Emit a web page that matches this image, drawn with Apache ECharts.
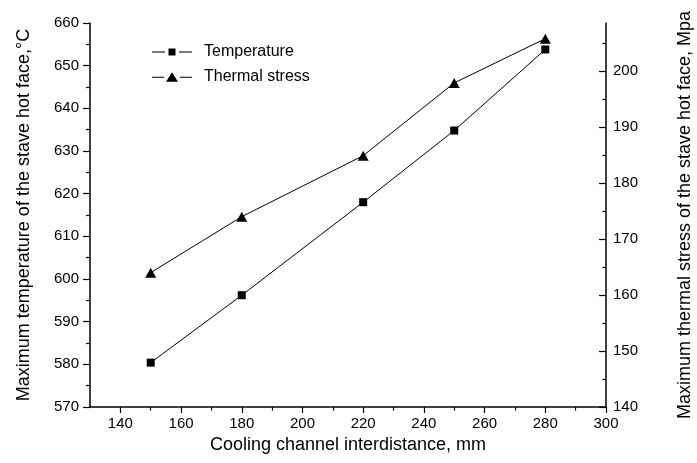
<!DOCTYPE html>
<html>
<head>
<meta charset="utf-8">
<script src="https://cdn.jsdelivr.net/npm/echarts@6/dist/echarts.min.js"></script>
<style>
  html, body { margin: 0; padding: 0; background: #fff; }
  #chart { width: 697px; height: 463px; }
</style>
</head>
<body>
<div id="chart"></div>
<script>
// Cooling channel interdistance (mm)
const spacing = [150, 180, 220, 250, 280];
// Maximum hot-face temperature (°C)
const temperature = [580.4, 596.2, 618.0, 634.8, 653.8];
// Maximum hot-face thermal stress (MPa)
const thermalStress = [164.0, 174.0, 184.9, 197.9, 205.8];

// Tick positions
const xMajorTicks = [140, 160, 180, 200, 220, 240, 260, 280, 300];
const xMinorTicks = [150, 170, 190, 210, 230, 250, 270, 290];
const stressMajorTicks = [140, 150, 160, 170, 180, 190, 200];
const stressMinorTicks = [145, 155, 165, 175, 185, 195, 205];

const FONT = '"Liberation Sans", Arial, sans-serif';
const INK = '#000';

// Legend keys: short line, marker, short line (with small gaps around the marker)
const SQUARE_KEY = 'path://M0 4.5H13V5.5H0Z M16.5 1.5H23.5V8.5H16.5Z M27 4.5H40V5.5H27Z';
const TRIANGLE_KEY = 'path://M0 5H12V6H0Z M14 10L20 0.5L26 10Z M28 5H40V6H28Z';

const pairs = (xs, ys) => xs.map((x, i) => [x, ys[i]]);

const chart = echarts.init(document.getElementById('chart'), null, { renderer: 'canvas' });

chart.setOption({
  animation: false,
  backgroundColor: '#fff',
  textStyle: { fontFamily: FONT, color: INK },
  grid: { left: 90, right: 91, top: 23, bottom: 56, containLabel: false, outerBoundsMode: 'none' },
  legend: {
    orient: 'vertical',
    left: 147,
    top: 39,
    itemWidth: 40,
    itemHeight: 10,
    itemGap: 9,
    symbolKeepAspect: true,
    textStyle: { fontSize: 16, color: INK, fontFamily: FONT, padding: [0, 0, 0, 7] },
    data: [
      { name: 'Temperature', icon: SQUARE_KEY },
      { name: 'Thermal stress', icon: TRIANGLE_KEY }
    ]
  },
  xAxis: [
    {
      type: 'value',
      position: 'bottom',
      min: 130,
      max: 300,
      name: 'Cooling channel interdistance, mm',
      nameLocation: 'middle',
      nameGap: 29,
      nameTextStyle: { fontSize: 18, color: INK, fontFamily: FONT },
      axisLine: { show: true, onZero: false, lineStyle: { color: INK, width: 1.5 } },
      axisTick: { show: true, inside: false, length: 6, customValues: xMajorTicks, lineStyle: { color: INK, width: 1.2 } },
      axisLabel: { customValues: xMajorTicks, fontSize: 15, color: INK, margin: 9, fontFamily: FONT },
      splitLine: { show: false }
    },
    {
      type: 'value',
      position: 'bottom',
      min: 130,
      max: 300,
      axisLine: { show: false },
      axisTick: { show: true, inside: false, length: 3.5, customValues: xMinorTicks, lineStyle: { color: INK, width: 1.2 } },
      axisLabel: { show: false },
      splitLine: { show: false }
    }
  ],
  yAxis: [
    {
      type: 'value',
      position: 'left',
      min: 570,
      max: 660,
      interval: 10,
      name: 'Maximum temperature of the stave hot face,°C',
      nameLocation: 'middle',
      nameRotate: 90,
      nameGap: 57,
      nameTextStyle: { fontSize: 18, color: INK, fontFamily: FONT },
      axisLine: { show: true, onZero: false, lineStyle: { color: INK, width: 1.5 } },
      axisTick: { show: true, inside: false, length: 7, lineStyle: { color: INK, width: 1.2 } },
      minorTick: { show: true, splitNumber: 2, length: 4, lineStyle: { color: INK, width: 1.2 } },
      axisLabel: { fontSize: 15, color: INK, margin: 11, fontFamily: FONT },
      splitLine: { show: false },
      minorSplitLine: { show: false }
    },
    {
      type: 'value',
      position: 'right',
      min: 140,
      max: 208.6,
      name: 'Maximum thermal stress of the stave hot face, Mpa',
      nameLocation: 'middle',
      nameRotate: 90,
      nameGap: 70,
      nameTextStyle: { fontSize: 18, color: INK, fontFamily: FONT },
      axisLine: { show: true, onZero: false, lineStyle: { color: INK, width: 1.5 } },
      axisTick: { show: true, inside: true, length: 7, customValues: stressMajorTicks, lineStyle: { color: INK, width: 1.2 } },
      axisLabel: { customValues: stressMajorTicks, fontSize: 15, color: INK, margin: 7, fontFamily: FONT },
      splitLine: { show: false }
    },
    {
      type: 'value',
      position: 'right',
      min: 140,
      max: 208.6,
      axisLine: { show: false },
      axisTick: { show: true, inside: true, length: 3.5, customValues: stressMinorTicks, lineStyle: { color: INK, width: 1.2 } },
      axisLabel: { show: false },
      splitLine: { show: false }
    }
  ],
  series: [
    {
      name: 'Temperature',
      type: 'line',
      xAxisIndex: 0,
      yAxisIndex: 0,
      data: pairs(spacing, temperature),
      symbol: 'rect',
      symbolSize: 8,
      lineStyle: { color: INK, width: 1 },
      itemStyle: { color: INK }
    },
    {
      name: 'Thermal stress',
      type: 'line',
      xAxisIndex: 0,
      yAxisIndex: 1,
      data: pairs(spacing, thermalStress),
      symbol: 'triangle',
      symbolSize: [11, 10],
      lineStyle: { color: INK, width: 1 },
      itemStyle: { color: INK }
    }
  ]
});
</script>
</body>
</html>
